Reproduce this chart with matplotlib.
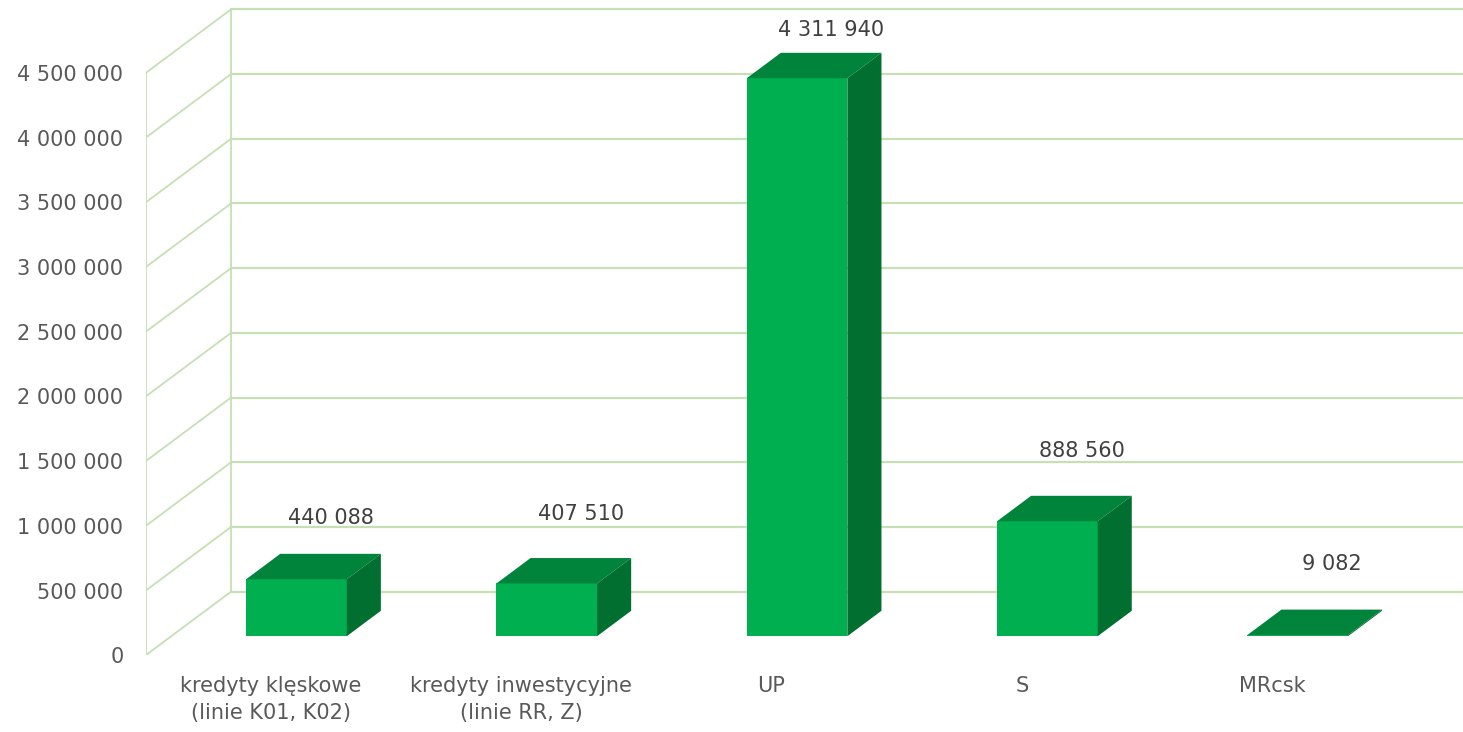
import matplotlib.pyplot as plt
from matplotlib.patches import Polygon, Rectangle

# ============================================================
# Data
# ============================================================
categories = [
    "kredyty klęskowe\n(linie K01, K02)",
    "kredyty inwestycyjne\n(linie RR, Z)",
    "UP",
    "S",
    "MRcsk",
]
values = [440088, 407510, 4311940, 888560, 9082]
yticks = [0, 500000, 1000000, 1500000, 2000000, 2500000,
          3000000, 3500000, 4000000, 4500000]

# label distance above the back edge of the bar top (pixels)
label_dy = [36, 44, 23, 45, 46]

# ============================================================
# Style / 3D geometry
# ============================================================
grid_color = "#C5E0B4"
front_color = "#00B050"
top_color = "#00833B"
side_color = "#006F30"
text_color = "#595959"
value_color = "#404040"

W, H = 1463, 732
px_left, px_bottom = 145.7, 655.3
slot_px = 250.3
step_px = 64.7                      # pixels per 500 000

DX = 85.3 / slot_px                 # full wall depth in x units
DY = 63.6 / step_px * 500000        # full wall depth in value units
f0, fd = 0.3, 0.4                   # bar front position / depth (fraction)
bw = 100.6 / slot_px                # bar width

fig = plt.figure(figsize=(W / 100, H / 100), dpi=100)
ax = fig.add_axes([px_left / W, (H - px_bottom) / H,
                   1 - px_left / W, px_bottom / H])
ax.set_xlim(-0.5, -0.5 + (W - px_left) / slot_px)
ax.set_ylim(0, px_bottom / step_px * 500000)
for s in ax.spines.values():
    s.set_visible(False)

# ============================================================
# Walls / grid
# ============================================================
x_back = -0.5 + DX
top = yticks[-1]
lw = 1.3
ax.plot([-0.5, -0.5], [0, top], color=grid_color, lw=lw, zorder=1)
ax.plot([x_back, x_back], [DY, top + DY], color=grid_color, lw=lw, zorder=1)
for v in yticks:
    ax.plot([-0.5, x_back], [v, v + DY], color=grid_color, lw=lw, zorder=1)
    ax.plot([x_back, ax.get_xlim()[1]], [v + DY, v + DY],
            color=grid_color, lw=lw + 0.3, zorder=1)

# ============================================================
# Bars
# ============================================================
for i, v in enumerate(values):
    x0 = i - bw / 2 + f0 * DX
    y0 = f0 * DY
    ddx, ddy = fd * DX, fd * DY
    ax.add_patch(Rectangle((x0, y0), bw, v, facecolor=front_color,
                           edgecolor="none", zorder=3, clip_on=False))
    ax.add_patch(Polygon([(x0, y0 + v), (x0 + bw, y0 + v),
                          (x0 + bw + ddx, y0 + v + ddy),
                          (x0 + ddx, y0 + v + ddy)],
                         closed=True, facecolor=top_color,
                         edgecolor="none", zorder=3, clip_on=False))
    ax.add_patch(Polygon([(x0 + bw, y0), (x0 + bw, y0 + v),
                          (x0 + bw + ddx, y0 + v + ddy),
                          (x0 + bw + ddx, y0 + ddy)],
                         closed=True, facecolor=side_color,
                         edgecolor="none", zorder=3, clip_on=False))
    ax.annotate(f"{v:,}".replace(",", " "),
                xy=(x0 + bw / 2 + ddx, y0 + v + ddy),
                xytext=(0, label_dy[i]), textcoords="offset pixels",
                ha="center", va="center", fontsize=15,
                color=value_color, zorder=4)

# ============================================================
# Ticks
# ============================================================
ax.set_yticks(yticks)
ax.set_yticklabels([f"{v:,}".replace(",", " ") for v in yticks])
ax.set_xticks(range(len(categories)))
ax.set_xticklabels(categories, linespacing=1.45)
ax.tick_params(axis="y", length=0, pad=16, labelsize=15, labelcolor=text_color)
ax.tick_params(axis="x", length=0, pad=15, labelsize=15, labelcolor=text_color)

fig.savefig("out.png", dpi=100)
